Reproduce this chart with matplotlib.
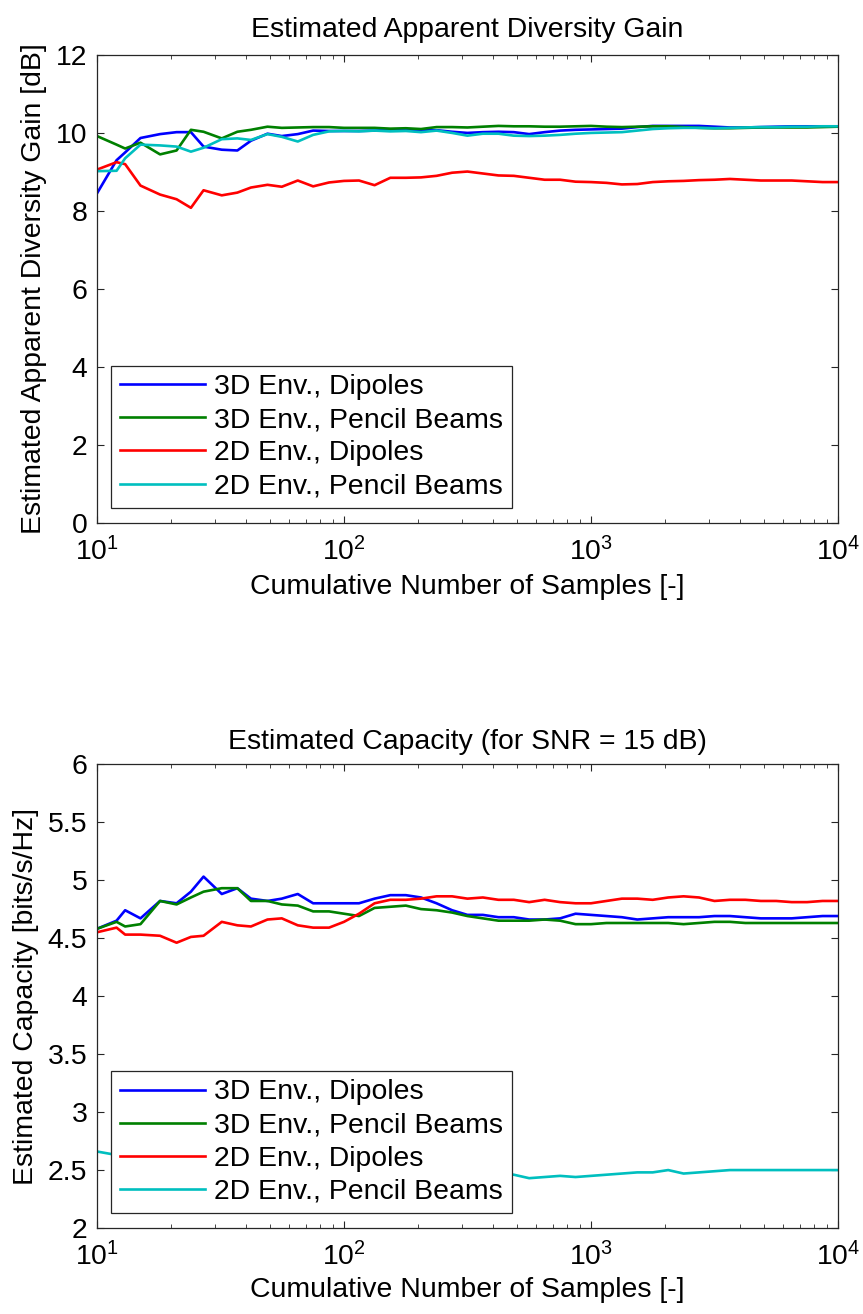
import numpy as np
import matplotlib
matplotlib.use('Agg')
import matplotlib.pyplot as plt

plt.rcParams['font.family'] = ['Liberation Sans', 'DejaVu Sans']
plt.rcParams['mathtext.default'] = 'regular'

# Cumulative number of samples (x positions of the curves)
samples = [10, 12, 13, 15, 18, 21, 24, 27, 32, 37, 42, 49, 56, 65, 75, 87,
           100, 115, 133, 154, 178, 205, 237, 274, 316, 365, 422, 487, 562, 649, 750, 866,
           1000, 1155, 1334, 1540, 1778, 2054, 2371, 2738, 3162, 3652, 4217, 4870, 5623, 6494, 7499, 8660,
           10000]

labels = ['3D Env., Dipoles', '3D Env., Pencil Beams', '2D Env., Dipoles', '2D Env., Pencil Beams']
colors = ['#0000ff', '#008000', '#ff0000', '#00bfbf']

# Estimated apparent diversity gain [dB]
gain_3d_dip = [8.45, 9.3, 9.5, 9.87, 9.97, 10.02, 10.02, 9.65, 9.57, 9.55, 9.8, 9.98, 9.92, 9.97, 10.06, 10.05,
               10.05, 10.05, 10.06, 10.08, 10.08, 10.07, 10.07, 10.03, 10.0, 10.02, 10.03, 10.02, 9.97, 10.02, 10.06, 10.08,
               10.09, 10.1, 10.11, 10.15, 10.18, 10.18, 10.18, 10.18, 10.16, 10.14, 10.14, 10.15, 10.16, 10.17, 10.17, 10.17,
               10.17]
gain_3d_pb = [9.92, 9.7, 9.6, 9.75, 9.45, 9.55, 10.08, 10.03, 9.86, 10.03, 10.08, 10.16, 10.13, 10.14, 10.15, 10.15,
              10.13, 10.13, 10.13, 10.11, 10.12, 10.1, 10.15, 10.15, 10.14, 10.16, 10.18, 10.17, 10.17, 10.16, 10.16, 10.17,
              10.18, 10.16, 10.15, 10.16, 10.17, 10.17, 10.15, 10.13, 10.12, 10.12, 10.13, 10.14, 10.14, 10.14, 10.14, 10.15,
              10.16]
gain_2d_dip = [9.06, 9.25, 9.2, 8.65, 8.42, 8.3, 8.08, 8.53, 8.4, 8.47, 8.6, 8.67, 8.62, 8.78, 8.63, 8.73,
               8.77, 8.78, 8.66, 8.85, 8.85, 8.86, 8.9, 8.98, 9.01, 8.96, 8.91, 8.9, 8.85, 8.8, 8.8, 8.75,
               8.74, 8.72, 8.68, 8.69, 8.74, 8.76, 8.77, 8.79, 8.8, 8.82, 8.8, 8.78, 8.78, 8.78, 8.76, 8.74,
               8.74]
gain_2d_pb = [9.02, 9.03, 9.35, 9.7, 9.68, 9.65, 9.52, 9.62, 9.84, 9.86, 9.82, 9.97, 9.9, 9.78, 9.95, 10.04,
              10.05, 10.04, 10.06, 10.04, 10.05, 10.02, 10.06, 10.0, 9.93, 9.98, 9.98, 9.93, 9.92, 9.93, 9.95, 9.98,
              10.0, 10.01, 10.02, 10.06, 10.1, 10.12, 10.13, 10.13, 10.12, 10.13, 10.14, 10.15, 10.15, 10.16, 10.16, 10.17,
              10.17]

# Estimated capacity for SNR = 15 dB [bits/s/Hz]
cap_3d_dip = [4.58, 4.65, 4.74, 4.67, 4.82, 4.8, 4.9, 5.03, 4.88, 4.93, 4.84, 4.82, 4.84, 4.88, 4.8, 4.8,
              4.8, 4.8, 4.84, 4.87, 4.87, 4.85, 4.8, 4.74, 4.7, 4.7, 4.68, 4.68, 4.66, 4.66, 4.67, 4.71,
              4.7, 4.69, 4.68, 4.66, 4.67, 4.68, 4.68, 4.68, 4.69, 4.69, 4.68, 4.67, 4.67, 4.67, 4.68, 4.69,
              4.69]
cap_3d_pb = [4.58, 4.64, 4.6, 4.62, 4.82, 4.79, 4.85, 4.9, 4.93, 4.93, 4.82, 4.82, 4.79, 4.78, 4.73, 4.73,
             4.71, 4.69, 4.76, 4.77, 4.78, 4.75, 4.74, 4.72, 4.69, 4.67, 4.65, 4.65, 4.65, 4.66, 4.65, 4.62,
             4.62, 4.63, 4.63, 4.63, 4.63, 4.63, 4.62, 4.63, 4.64, 4.64, 4.63, 4.63, 4.63, 4.63, 4.63, 4.63,
             4.63]
cap_2d_dip = [4.55, 4.59, 4.53, 4.53, 4.52, 4.46, 4.51, 4.52, 4.64, 4.61, 4.6, 4.66, 4.67, 4.61, 4.59, 4.59,
              4.64, 4.71, 4.8, 4.83, 4.83, 4.84, 4.86, 4.86, 4.84, 4.85, 4.83, 4.83, 4.81, 4.83, 4.81, 4.8,
              4.8, 4.82, 4.84, 4.84, 4.83, 4.85, 4.86, 4.85, 4.82, 4.83, 4.83, 4.82, 4.82, 4.81, 4.81, 4.82,
              4.82]
cap_2d_pb = [2.66, 2.63, 2.6, 2.58, 2.6, 2.57, 2.55, 2.56, 2.54, 2.53, 2.55, 2.52, 2.51, 2.52, 2.5, 2.5,
             2.49, 2.5, 2.48, 2.49, 2.47, 2.48, 2.47, 2.46, 2.47, 2.46, 2.47, 2.46, 2.43, 2.44, 2.45, 2.44,
             2.45, 2.46, 2.47, 2.48, 2.48, 2.5, 2.47, 2.48, 2.49, 2.5, 2.5, 2.5, 2.5, 2.5, 2.5, 2.5,
             2.5]

fig = plt.figure(figsize=(8.63, 13.14), dpi=100)
ax1 = fig.add_axes([0.1124, 0.602, 0.8586, 0.3562])
ax2 = fig.add_axes([0.1124, 0.0654, 0.8586, 0.3531])

FS = 20.4


def style_axes(ax):
    ax.set_xscale('log')
    ax.set_xlim(10, 1e4)
    ax.tick_params(which='both', direction='in', top=True, right=True, labelsize=FS, color='#262626')
    ax.tick_params(which='major', length=5, width=0.8)
    ax.tick_params(which='minor', length=3, width=0.6)
    ax.tick_params(axis='x', which='major', pad=10)
    ax.tick_params(axis='y', which='major', pad=7)
    for s in ax.spines.values():
        s.set_linewidth(0.9)
        s.set_color('#262626')


def add_legend(ax):
    leg = ax.legend(loc='lower left', bbox_to_anchor=(0.019, 0.032), borderaxespad=0,
                    fontsize=FS, handlelength=3.0, labelspacing=0.25, borderpad=0.3,
                    handletextpad=0.35, fancybox=False, framealpha=1, edgecolor='#262626')
    leg.get_frame().set_linewidth(0.9)


# Top panel: apparent diversity gain
for y, lab, c in zip([gain_3d_dip, gain_3d_pb, gain_2d_dip, gain_2d_pb], labels, colors):
    ax1.plot(samples, y, color=c, lw=1.9, label=lab)
style_axes(ax1)
ax1.set_ylim(0, 12)
ax1.set_yticks(np.arange(0, 13, 2))
ax1.set_xlabel('Cumulative Number of Samples [-]', fontsize=FS, labelpad=6)
ax1.set_ylabel('Estimated Apparent Diversity Gain [dB]', fontsize=FS, labelpad=6)
ax1.set_title('Estimated Apparent Diversity Gain', fontsize=FS, pad=13)
add_legend(ax1)

# Bottom panel: capacity
for y, lab, c in zip([cap_3d_dip, cap_3d_pb, cap_2d_dip, cap_2d_pb], labels, colors):
    ax2.plot(samples, y, color=c, lw=1.9, label=lab)
style_axes(ax2)
ax2.set_ylim(2, 6)
ax2.set_yticks(np.arange(2, 6.01, 0.5))
ax2.set_yticklabels(['2', '2.5', '3', '3.5', '4', '4.5', '5', '5.5', '6'])
ax2.set_xlabel('Cumulative Number of Samples [-]', fontsize=FS, labelpad=4)
ax2.set_ylabel('Estimated Capacity [bits/s/Hz]', fontsize=FS, labelpad=6)
ax2.set_title('Estimated Capacity (for SNR = 15 dB)', fontsize=FS, pad=11)
add_legend(ax2)

fig.savefig('out.png', dpi=100)
